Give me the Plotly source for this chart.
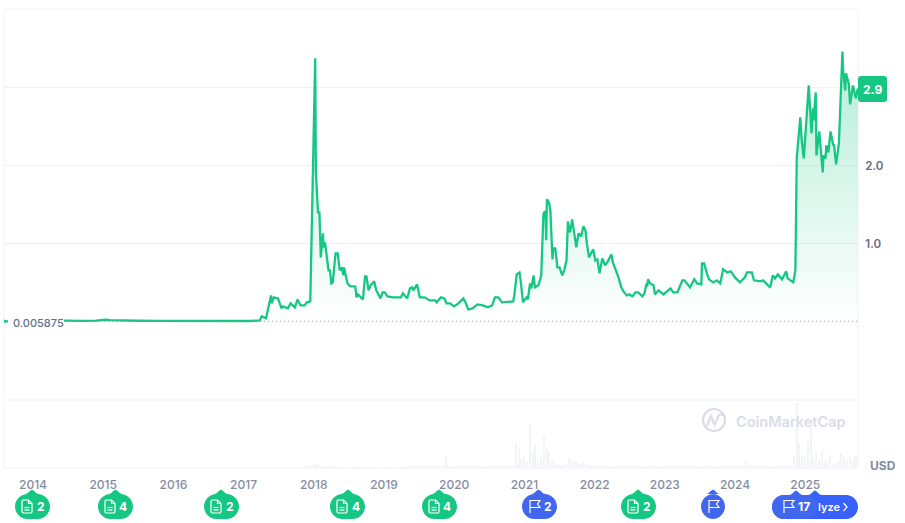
import plotly.graph_objects as go

# ---------- data ----------
price_years = (
    [2013.59, 2013.80, 2013.97, 2014.20, 2014.46, 2014.70, 2014.90, 2014.97, 2015.03, 2015.10, 2015.25, 2015.50,
     2015.80, 2016.10, 2016.50, 2016.90]
    + [2017.09, 2017.23, 2017.26, 2017.32, 2017.39, 2017.40, 2017.43, 2017.49, 2017.54, 2017.56, 2017.63, 2017.67,
       2017.73, 2017.77, 2017.81, 2017.87, 2017.90, 2017.95, 2017.97, 2017.99]
    + [2018.02, 2018.03, 2018.06, 2018.08, 2018.10, 2018.13, 2018.14, 2018.16, 2018.21, 2018.23, 2018.25, 2018.27,
       2018.31, 2018.34, 2018.37, 2018.40, 2018.42, 2018.43, 2018.48, 2018.52, 2018.59, 2018.61, 2018.63, 2018.67,
       2018.70, 2018.73, 2018.75, 2018.78, 2018.81, 2018.86, 2018.89, 2018.95, 2018.98]
    + [2019.01, 2019.05, 2019.13, 2019.24, 2019.27, 2019.33, 2019.37, 2019.40, 2019.42, 2019.47, 2019.51, 2019.58,
       2019.65, 2019.73, 2019.75, 2019.81, 2019.86, 2019.89, 2019.94]
    + [2020.00, 2020.06, 2020.13, 2020.16, 2020.20, 2020.26, 2020.33, 2020.41, 2020.48, 2020.54, 2020.58, 2020.63,
       2020.68, 2020.84, 2020.86, 2020.89, 2020.93, 2020.95, 2020.98]
    + [2021.03, 2021.05, 2021.08, 2021.10, 2021.13, 2021.15, 2021.20, 2021.24, 2021.27, 2021.28, 2021.30, 2021.31,
       2021.32, 2021.35, 2021.37, 2021.40, 2021.41, 2021.44, 2021.47, 2021.50, 2021.54, 2021.57, 2021.60, 2021.62,
       2021.64, 2021.65, 2021.68, 2021.71, 2021.74, 2021.77, 2021.81, 2021.84, 2021.87, 2021.89, 2021.92, 2021.98]
    + [2022.01, 2022.04, 2022.07, 2022.11, 2022.15, 2022.18, 2022.24, 2022.26, 2022.29, 2022.34, 2022.38, 2022.42,
       2022.46, 2022.49, 2022.54, 2022.58, 2022.62, 2022.68, 2022.71, 2022.74, 2022.75, 2022.76, 2022.79, 2022.84,
       2022.86, 2022.91, 2022.98]
    + [2023.04, 2023.08, 2023.12, 2023.18, 2023.25, 2023.28, 2023.36, 2023.42, 2023.46, 2023.52, 2023.53, 2023.56,
       2023.60, 2023.63, 2023.69, 2023.74, 2023.79, 2023.83, 2023.89, 2023.94]
    + [2024.00, 2024.07, 2024.14, 2024.17, 2024.24, 2024.27, 2024.36, 2024.40, 2024.50, 2024.54, 2024.57, 2024.61,
       2024.67, 2024.73, 2024.75, 2024.83, 2024.86, 2024.87, 2024.88, 2024.93, 2024.95, 2024.98]
    + [2025.01, 2025.05, 2025.09, 2025.11, 2025.12, 2025.15, 2025.16, 2025.20, 2025.25, 2025.26, 2025.29, 2025.30,
       2025.33, 2025.36, 2025.40, 2025.41, 2025.44, 2025.48, 2025.53, 2025.54, 2025.57, 2025.58, 2025.62, 2025.64,
       2025.68, 2025.72, 2025.75]
)
price_values = (
    [.006, .006, .02, .016, .012, .012, .014, .022, .026, .022, .016, .013, .012, .011, .011, .011]
    + [.01, .018, .07, .044, .338, .236, .313, .30, .172, .197, .172, .236, .185, .287, .21, .21, .249, .262, 1.044,
       2.108]
    + [3.377, 1.903, 1.403, 1.403, .826, 1.133, .954, 1.018, .659, .659, .492, .505, .877, .877, .659, .697, .595,
       .697, .492, .454, .454, .313, .351, .313, .287, .582, .582, .403, .467, .518, .403, .30, .377]
    + [.377, .326, .313, .313, .364, .30, .428, .441, .403, .479, .313, .313, .274, .274, .249, .313, .30, .236, .236]
    + [.197, .236, .30, .249, .159, .172, .223, .21, .185, .21, .313, .313, .249, .262, .364, .608, .633, .505, .249]
    + [.313, .287, .492, .428, .595, .441, .467, .595, 1.364, 1.403, 1.415, 1.044, 1.569, 1.531, 1.428, .80, .941,
       .941, .697, .697, .595, .672, .787, 1.287, 1.172, 1.146, 1.313, 1.108, .954, 1.133, 1.095, 1.223, 1.172, 1.005,
       .826, .928]
    + [.787, .80, .621, .813, .723, .762, .864, .762, .697, .569, .441, .377, .338, .351, .326, .377, .377, .326,
       .364, .492, .454, .544, .492, .467, .351, .403, .351]
    + [.403, .428, .377, .377, .531, .531, .441, .544, .492, .479, .749, .749, .621, .544, .505, .531, .492, .672,
       .633, .646]
    + [.569, .505, .569, .633, .633, .531, .518, .531, .441, .595, .556, .608, .544, .646, .556, .505, .659, 1.338,
       2.108, 2.62, 2.326, 2.095]
    + [2.492, 3.03, 2.415, 2.736, 2.582, 2.94, 2.133, 2.441, 1.915, 2.133, 2.095, 2.262, 2.172, 2.441, 2.262, 2.274,
       2.018, 2.287, 3.466, 3.223, 2.967, 3.185, 3.056, 2.787, 3.03, 2.864, 2.99]
)
assert len(price_years) == len(price_values)

# faint traded volume (billions USD), one reading every 0.04 year from 2017.80
volume_start = 2017.80
volume_step = 0.04
volume_values = [
    .6, .6, 1.2, 1.2, 1.8, 1.8, 2.4, 1.8, 1.2, 1.2, .9, .8, .8, .6, .6, .6, .5, .5, .6, .5, .5, .5, .5, .6, .5,
    .5, .4, .5, .5, .4, .4, .5, .4, .4, .5, .4, .5, .7, .6, .9, 1, .8, .9, 1.1, .9, .7, .8, .7, .9, .8,
    .8, .9, 6.6, 1.2, .9, .9, 1.1, 1, 1.2, .9, 1, .8, .9, .8, .7, .7, .8, .7, .7, .8, .9, .7, .8, .9, .8,
    1.0, 1.5, 15, 12.6, 5.4, 7.2, 4.5, 25.8, 9, 13.8, 3, 6.6, 19.8, 12, 9.6, 5, 2.4, 2.0, 1.4, 1.2, 2.4, 6, 4.8, 3.6, 3,
    2.4, 3.6, 2.4, 2, 1.8, 1.5, 1.4, 1.6, 1.2, 1.2, 1.4, 1.5, 1.3, 1.2, 1.4, 1.1, 1.2, 1.4, 1, 1, 1.2, 1.3, 1.1, 1, 1,
    1, 1.1, .9, .9, 1, 1.1, .9, .8, 1, .9, .8, .9, .8, .8, .9, .8, .7, .9, .8, .8, .7, .8, .8, .9, 1,
    .9, .8, 1, 1, 1.1, 1, .9, 1.1, 1.6, 4, 2, 1.2, 1, .9, 1.1, 1, .9, .9, 1, 1.1, 1, 1.2, 1.3, 1.1, 1.3,
    2, 7.8, 39, 15, 8, 6, 16.2, 28.8, 6, 9.6, 5, 10.8, 4, 3, 7.8, 3, 3, 4, 9, 6.6, 5, 6, 4.5, 7.2, 4.8,
]
volume_years = [volume_start + volume_step * i for i in range(len(volume_values))]

year_ticks = list(range(2014, 2026))
year_labels = [str(y) for y in year_ticks]
price_ticks = [1, 2, 3]
price_tick_labels = ["1.0", "2.0", ""]
base_price = 0.005875
base_label = "0.005875"
last_label = "2.9"
currency = "USD"
brand = "CoinMarketCap"

# badges: centre of tip, left edge, right edge, kind, count
badges = [
    (32, 15, 50, "doc", "2"),
    (115.5, 98, 133, "doc", "4"),
    (221, 204, 239, "doc", "2"),
    (348, 330, 365, "doc", "4"),
    (439, 422, 457, "doc", "4"),
    (538.5, 522, 557, "flag", "2"),
    (638, 621, 656, "doc", "2"),
    (713, 701, 725, "flag", ""),
]

# ---------- style ----------
W, H = 905, 523
L, R, T, B = 4, 858, 9, 468
SEP = 400
GREEN = "#16c784"
BLUE = "#3861fb"
BADGE_BLUE = "#4267ef"
GRID = "#eff2f5"
GREY = "#858ca2"
SLATE = "#616e85"
FONT = "Inter, Roboto, sans-serif"


def px(x):
    return (x - L) / (R - L)


def py(y):
    return (B - y) / (B - T)


def path(*cmds):
    """Build an SVG path in paper coordinates from pixel commands."""
    out = []
    for c in cmds:
        op, pts = c[0], c[1:]
        out.append(op + " ".join(f"{px(pts[i]):.5f},{py(pts[i + 1]):.5f}" for i in range(0, len(pts), 2)))
    return " ".join(out)


shapes = []


def add_shape(p, fill=None, line=None, width=1.2):
    shapes.append(dict(type="path", xref="paper", yref="paper", path=p, layer="above",
                       fillcolor=fill if fill else "rgba(0,0,0,0)",
                       line=dict(color=line if line else "rgba(0,0,0,0)", width=width if line else 0)))


def pill(x0, x1, y0, y1, color, tips=()):
    r = (y1 - y0) / 2
    k = r * 0.55
    cmds = [("M", x0, y0 + r), ("C", x0, y0 + r - k, x0 + r - k, y0, x0 + r, y0)]
    for t in sorted(tips):
        cmds += [("L", t - 7, y0), ("C", t - 4, y0, t - 3, y0 - 3, t, y0 - 4.5),
                 ("C", t + 3, y0 - 3, t + 4, y0, t + 7, y0)]
    cmds += [("L", x1 - r, y0), ("C", x1 - r + k, y0, x1, y0 + r - k, x1, y0 + r),
             ("C", x1, y0 + r + k, x1 - r + k, y1, x1 - r, y1), ("L", x0 + r, y1),
             ("C", x0 + r - k, y1, x0, y0 + r + k, x0, y0 + r), ("Z",)]
    add_shape(path(*cmds), fill=color)


def doc_icon(cx, cy):
    a, b = cx - 5, cy - 6.5
    add_shape(path(("M", a + 6.5, b), ("L", a + 1, b), ("L", a, b + 1), ("L", a, b + 12), ("L", a + 1, b + 13),
                   ("L", a + 9, b + 13), ("L", a + 10, b + 12), ("L", a + 10, b + 3.5), ("Z",)), line="white")
    add_shape(path(("M", a + 6.5, b), ("L", a + 6.5, b + 3.5), ("L", a + 10, b + 3.5)), line="white")
    add_shape(path(("M", a + 2.5, b + 7.5), ("L", a + 7.5, b + 7.5)), line="white")
    add_shape(path(("M", a + 2.5, b + 10), ("L", a + 7.5, b + 10)), line="white")


def flag_icon(cx, cy):
    a, b = cx - 5, cy - 6.5
    add_shape(path(("M", a + 1, b + 13), ("L", a + 1, b)), line="white")
    add_shape(path(("M", a + 1, b + .5), ("L", a + 11, b + .5), ("L", a + 8.5, b + 4), ("L", a + 11, b + 7.5),
                   ("L", a + 1, b + 7.5)), line="white")


annotations = []


def label(x, y, text, color, size=12, weight=600, xanchor="center", bg=None):
    annotations.append(dict(xref="paper", yref="paper", x=px(x), y=py(y), text=text, showarrow=False,
                            xanchor=xanchor, yanchor="middle", bgcolor=bg,
                            font=dict(family=FONT, size=size, color=color, weight=weight),
                            borderpad=0))


# frame and separator
shapes.append(dict(type="rect", xref="paper", yref="paper", x0=0, x1=1, y0=0, y1=1, layer="below",
                   line=dict(color=GRID, width=1), fillcolor="rgba(0,0,0,0)"))
shapes.append(dict(type="line", xref="paper", yref="paper", x0=0, x1=1, y0=py(SEP), y1=py(SEP), layer="below",
                   line=dict(color=GRID, width=1)))

# Analyze button, with the events badge lying over its left part
pill(772, 858, 495, 519, BLUE, tips=[815])
pill(772, 817, 495, 519, BADGE_BLUE, tips=[796])
flag_icon(788, 506.5)
label(804, 506, "17", "white", size=12, weight=700)
label(816.5, 507, "lyze", "white", size=11, weight=600, xanchor="left")
add_shape(path(("M", 843.5, 503), ("L", 847, 507), ("L", 843.5, 511)), line="white", width=1.2)

for tip, x0, x1, kind, count in badges:
    pill(x0, x1, 494, 519, GREEN if kind == "doc" else BADGE_BLUE, tips=[tip])
    icx = x0 + 12 if count else (x0 + x1) / 2
    (doc_icon if kind == "doc" else flag_icon)(icx, 506.5)
    if count:
        label(x0 + 25.5, 506, count, "white", size=12, weight=700)

# current price tag
r = 3
add_shape(path(("M", 858, 76 + r), ("C", 858, 77, 859, 76, 858 + r, 76), ("L", 887 - r, 76),
               ("C", 886, 76, 887, 77, 887, 76 + r), ("L", 887, 102 - r), ("C", 887, 101, 886, 102, 887 - r, 102),
               ("L", 858 + r, 102), ("C", 859, 102, 858, 101, 858, 102 - r), ("Z",)), fill=GREEN)
label(872.5, 89, last_label, "white", size=12, weight=700)
label(883, 465.5, currency, GREY, size=12, weight=700)

# white plate under the base price label hides the start of the line
add_shape(path(("M", 8, 315), ("L", 64, 315), ("L", 64, 330), ("L", 8, 330), ("Z",)), fill="white")
label(12, 323, base_label, SLATE, size=11, weight=500, xanchor="left")

# watermark
WM = "#d8dde8"
shapes.append(dict(type="circle", xref="paper", yref="paper", x0=px(703), x1=px(725), y0=py(431), y1=py(409),
                   line=dict(color=WM, width=2.2), layer="below", fillcolor="rgba(0,0,0,0)"))
add_shape(path(("M", 707, 426), ("L", 711, 416), ("L", 714.5, 425), ("L", 719, 415), ("C", 721, 414, 725, 414, 725, 418)),
          line=WM, width=2.2)
label(735, 421, brand, WM, size=14.5, weight=600, xanchor="left")

# ---------- figure ----------
fig = go.Figure()
fig.add_trace(go.Bar(x=volume_years, y=volume_values, width=0.022, marker=dict(color="#f2f4f8", line=dict(width=0)),
                     xaxis="x", yaxis="y2", showlegend=False, hoverinfo="skip"))
fig.add_trace(go.Scatter(x=price_years, y=price_values, mode="lines", line=dict(color=GREEN, width=2.3),
                         fill="tozeroy",
                         fillgradient=dict(type="vertical", start=0, stop=3.47,
                                           colorscale=[[0, "rgba(22,199,132,0.0)"], [1, "rgba(22,199,132,0.32)"]]),
                         xaxis="x", yaxis="y", showlegend=False, hoverinfo="skip"))
fig.add_trace(go.Scatter(x=[price_years[0], 2025.75], y=[base_price, base_price], mode="lines",
                         line=dict(color="#8a92a3", width=1, dash="1px,3px"),
                         xaxis="x", yaxis="y", showlegend=False, hoverinfo="skip"))
fig.add_trace(go.Scatter(x=[price_years[0]], y=[base_price], mode="markers",
                         marker=dict(color=GREEN, size=3, symbol="square"),
                         xaxis="x", yaxis="y", showlegend=False, hoverinfo="skip"))

fig.update_layout(
    width=W, height=H,
    margin=dict(l=L, r=W - R, t=T, b=H - B, pad=0),
    paper_bgcolor="white", plot_bgcolor="white",
    font=dict(family=FONT),
    bargap=0,
    hovermode=False,
    shapes=shapes,
    annotations=annotations,
    xaxis=dict(range=[2013.587, 2025.752], tickmode="array", tickvals=year_ticks, ticktext=year_labels,
               anchor="y2", showgrid=False, zeroline=False, showline=False, ticks="outside", ticklen=6,
               tickcolor="rgba(0,0,0,0)", tickfont=dict(family=FONT, size=12, color=GREY, weight=500)),
    yaxis=dict(domain=[(B - SEP) / (B - T), 1], range=[-1.003, 4.01], side="right", anchor="x", tickmode="array",
               tickvals=price_ticks, ticktext=price_tick_labels, showgrid=True, gridcolor=GRID, gridwidth=1,
               zeroline=False, showline=False, ticks="outside", ticklen=4, tickcolor="rgba(0,0,0,0)",
               tickfont=dict(family=FONT, size=11.5, color=SLATE, weight=600)),
    yaxis2=dict(domain=[0, (B - SEP) / (B - T)], range=[0, 41], anchor="x", side="right", showgrid=False,
                zeroline=False, showticklabels=False, showline=False, ticks=""),
)

fig.write_html("out.html", config=dict(displayModeBar=False), post_script="document.body.style.margin='0';")
